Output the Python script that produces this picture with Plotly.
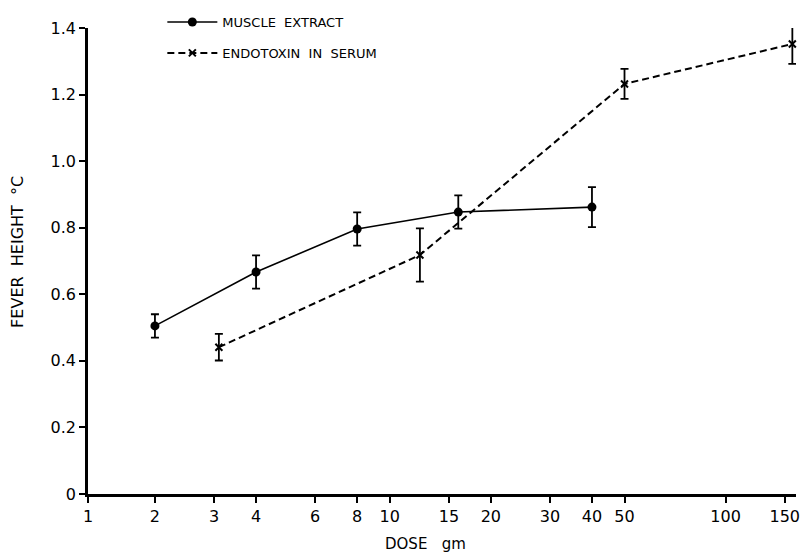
import math
import plotly.graph_objects as go

# --- data ---
muscle_dose = [2, 4, 8, 16, 40]
muscle_fever = [0.505, 0.667, 0.796, 0.847, 0.862]
muscle_err = [0.035, 0.05, 0.05, 0.05, 0.06]

endo_dose = [3.1, 12.3, 50, 158]
endo_fever = [0.441, 0.718, 1.232, 1.352]
endo_err = [0.04, 0.08, 0.045, 0.06]

x_tick_labels = ["1", "2", "3", "4", "6", "8", "10", "15", "20", "30", "40", "50", "100", "150"]
y_tick_vals = [0, 0.2, 0.4, 0.6, 0.8, 1.0, 1.2, 1.4]
y_tick_text = ["0", "0.2", "0.4", "0.6", "0.8", "1.0", "1.2", "1.4"]

# The original axis is broken between 1 and 2: the "1" sits at the axis start.
axis_start = 1.264
x_tick_vals = [axis_start] + [float(t) for t in x_tick_labels[1:]]

FONT = "DejaVu Sans"

fig = go.Figure()
fig.add_trace(go.Scatter(
    x=muscle_dose, y=muscle_fever, mode="lines+markers", name="MUSCLE  EXTRACT",
    legendgroup="a",
    line=dict(color="black", width=1.6),
    marker=dict(symbol="circle", size=9, color="black"),
    error_y=dict(type="data", array=muscle_err, color="black", thickness=1.8, width=4),
    cliponaxis=False,
))
fig.add_trace(go.Scatter(
    x=endo_dose, y=endo_fever, mode="lines+markers", name="ENDOTOXIN  IN  SERUM",
    legendgroup="b",
    line=dict(color="black", width=2, dash="7px,4px"),
    marker=dict(symbol="x-thin", size=7, color="black", line=dict(width=2, color="black")),
    error_y=dict(type="data", array=endo_err, color="black", thickness=1.8, width=4),
    cliponaxis=False,
))

fig.update_layout(
    width=809, height=558,
    margin=dict(l=88, r=13, t=28, b=64, autoexpand=False),
    paper_bgcolor="white", plot_bgcolor="white",
    font=dict(family=FONT, color="black", size=14),
    showlegend=True,
    legend=dict(
        x=0.105, y=1.045, xanchor="left", yanchor="top",
        font=dict(size=13, family=FONT), bgcolor="rgba(0,0,0,0)",
        tracegroupgap=11, itemwidth=50,
    ),
    xaxis=dict(
        type="log",
        range=[math.log10(axis_start), math.log10(162)],
        tickvals=x_tick_vals, ticktext=x_tick_labels,
        ticks="outside", ticklen=6, tickwidth=2, tickcolor="black",
        showline=True, linecolor="black", linewidth=2.5,
        showgrid=False, zeroline=False,
        tickfont=dict(size=16),
    ),
    yaxis=dict(
        range=[0, 1.4],
        tickvals=y_tick_vals, ticktext=y_tick_text,
        ticks="outside", ticklen=6, tickwidth=2, tickcolor="black",
        showline=True, linecolor="black", linewidth=2.5,
        showgrid=False, zeroline=False,
        tickfont=dict(size=16),
    ),
    annotations=[
        dict(text="DOSE   gm", xref="paper", yref="paper", x=0.477, y=-0.108,
             xanchor="center", yanchor="middle", showarrow=False,
             font=dict(size=15, family=FONT)),
        dict(text="FEVER  HEIGHT  °C", xref="paper", yref="paper", x=-0.1, y=0.52,
             xanchor="center", yanchor="middle", showarrow=False, textangle=-90,
             font=dict(size=16, family=FONT)),
    ],
)

fig.write_html("out.html")
